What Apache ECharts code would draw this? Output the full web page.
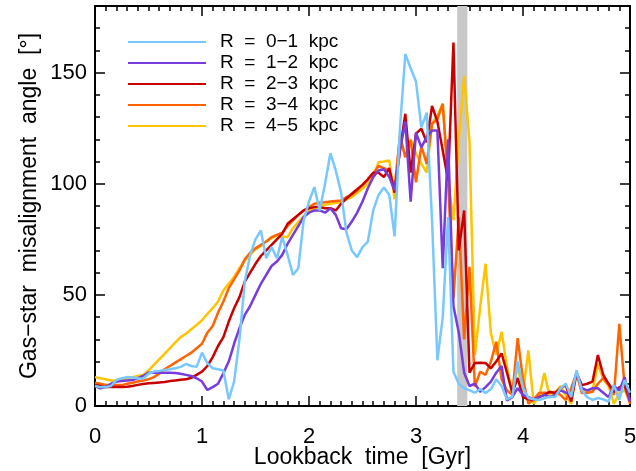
<!DOCTYPE html>
<html>
<head>
<meta charset="utf-8">
<script src="https://cdn.jsdelivr.net/npm/echarts@6.0.0/dist/echarts.min.js"></script>
<style>
  html, body { margin: 0; background: #fff; }
  #chart { width: 636px; height: 471px; }
</style>
</head>
<body>
<div id="chart"></div>
<script>
// lookback time [Gyr]
const times = [
  0, 0.05, 0.1, 0.15, 0.2, 0.25, 0.3, 0.35, 0.4, 0.45,
  0.5, 0.55, 0.6, 0.65, 0.7, 0.75, 0.8, 0.85, 0.9, 0.95,
  1, 1.05, 1.1, 1.15, 1.2, 1.25, 1.3, 1.35, 1.4, 1.45,
  1.5, 1.55, 1.6, 1.65, 1.7, 1.75, 1.8, 1.85, 1.9, 1.95,
  2, 2.05, 2.1, 2.15, 2.2, 2.25, 2.3, 2.35, 2.4, 2.45,
  2.5, 2.55, 2.6, 2.65, 2.7, 2.75, 2.8, 2.85, 2.9, 2.95,
  3, 3.05, 3.1, 3.15, 3.2, 3.25, 3.3, 3.35, 3.4, 3.45,
  3.5, 3.55, 3.6, 3.65, 3.7, 3.75, 3.8, 3.85, 3.9, 3.95,
  4, 4.05, 4.1, 4.15, 4.2, 4.25, 4.3, 4.35, 4.4, 4.45,
  4.5, 4.55, 4.6, 4.65, 4.7, 4.75, 4.8, 4.85, 4.9, 4.95,
  5
];

// misalignment angle [deg] per radial bin
const r01 = [
  9, 8.5, 8.5, 9, 11.7, 12.5, 13, 12.8, 12.5, 12.4,
  14.5, 15.5, 15.8, 16.2, 16.5, 17, 17.6, 18.9, 18, 17.6,
  24, 19.3, 17, 16.5, 16, 3, 11, 30, 56, 68,
  75, 79, 66.5, 71.5, 66.5, 76, 68, 59, 62, 83.5,
  92, 98.5, 88, 100, 113.7, 106, 96, 78, 70, 67,
  71.5, 74, 88, 95, 98.3, 95, 76.3, 125, 158.4, 152,
  146, 125.4, 132, 83.5, 20.6, 40, 85, 15.4, 10, 8,
  7, 6, 7.6, 5.8, 7.6, 12, 9, 3, 4.2, 20,
  8, 3.6, 3, 2.7, 3.5, 4.2, 4, 8, 10, 4,
  16, 7, 4, 2.7, 3.6, 3, 2, 9.4, 2.7, 11.7,
  6
];
const r12 = [
  9, 8, 8.5, 10, 11, 11.3, 11.5, 11.7, 12.5, 13.5,
  15, 15, 15, 15, 15, 14.8, 14.5, 14, 13.5, 12.5,
  11, 7.2, 8.5, 10, 14.8, 20, 28, 35, 41, 45,
  50, 55, 59, 63, 65, 68, 73, 77, 81, 85,
  87, 88, 88, 87, 89, 86, 80, 79.5, 83, 87,
  92, 98, 103, 106, 106.5, 103, 97, 115, 128, 92,
  123, 116.4, 121, 124, 124, 62, 120, 45, 33, 15,
  9, 10, 6.4, 8.5, 11, 15, 18, 2.5, 4, 8,
  5, 4, 3, 4, 5, 4, 5, 7, 6, 5,
  15, 8, 7, 8, 8, 6, 4, 9, 7, 13,
  2
];
const r23 = [
  9.4, 9, 8.5, 8.5, 8.5, 8.5, 8.7, 9, 9.5, 9.9,
  10.2, 10.4, 10.6, 10.8, 11.2, 11.5, 11.8, 12, 12.7, 14,
  15.5, 18, 22, 27, 31, 38, 44, 49, 56, 60,
  64, 67.5, 70, 72.5, 75, 77.5, 82, 84, 86, 88,
  89, 89.5, 89.5, 89, 89, 88, 91, 93.4, 95.5, 97.5,
  99.5, 102, 105, 105, 103, 107, 96, 115, 131.5, 105,
  122.6, 124.8, 118.7, 135, 128, 115, 101.5, 163.6, 70, 88,
  15, 19.3, 19.5, 19.3, 17, 20, 23.7, 15, 6, 12.6,
  4, 3, 2.7, 4, 5, 6.4, 5.8, 8, 9.4, 2,
  14.8, 9.4, 10, 11, 22.9, 14, 10, 6.4, 8.4, 9.4,
  2.7
];
const r34 = [
  10.5, 10, 9.5, 9.5, 9.4, 9.4, 10, 10.5, 11, 11.5,
  12, 13, 14.5, 16.5, 18, 19.5, 21, 22.5, 24, 26,
  28, 33, 36, 42, 47, 53, 57, 61, 66, 69,
  71, 72.5, 74, 76, 77, 78, 81, 83.5, 86, 88,
  89.5, 91, 91.5, 91.7, 92, 92.3, 92.5, 94, 95, 97,
  99.5, 102, 104.6, 108, 107, 106, 98, 121.7, 112, 119.5,
  100.7, 117, 109, 127, 129, 136, 101.5, 48.5, 85, 30,
  62.6, 8.7, 15.4, 14, 20, 28.9, 12, 7, 5, 30.5,
  12, 1, 3, 5.8, 6, 5.8, 6.4, 5, 2.7, 8,
  14.8, 5.8, 6, 6.4, 10, 12.6, 9.4, 5, 37, 8.7,
  1
];
const r45 = [
  13, 12.5, 12, 11.5, 11.5, 12, 12.5, 13, 13.5, 14,
  16, 18.5, 21, 23.5, 26, 28.5, 31, 32.5, 34.5, 36.5,
  38.6, 41.5, 44, 47, 52, 55, 58, 62, 65.5, 68,
  70.5, 72, 74, 75.5, 76.8, 76, 76, 80, 82.8, 85.5,
  88, 89, 90, 90.5, 91, 91.5, 91.7, 93, 94, 96,
  97.8, 100, 103, 109.7, 110, 110.5, 93, 121.7, 112, 120,
  113.6, 109, 105, 127, 130.7, 136, 101.5, 83.5, 120, 148.6,
  118.7, 22.9, 44.6, 64, 32.7, 23, 33.4, 17.8, 5, 17.8,
  5.8, 25, 1, 4, 14.8, 4, 6, 9, 5, 1,
  14.8, 7, 7, 7, 19, 12, 9, 1, 5.8, 7,
  2.7
];

const names = ['R  =  0−1  kpc', 'R  =  1−2  kpc', 'R  =  2−3  kpc', 'R  =  3−4  kpc', 'R  =  4−5  kpc'];
const colors = ['#78c8ff', '#783cdc', '#c80000', '#ff6400', '#ffc400'];
const values = [r01, r12, r23, r34, r45];
const band = [3.385, 3.48];

const FONT = 'Liberation Sans';
const black = '#000';

const chart = echarts.init(document.getElementById('chart'));

const line = { show: true, onZero: false, lineStyle: { color: black, width: 2 } };
const tick = (len) => ({ show: true, inside: true, length: len, lineStyle: { color: black, width: 1.5 } });

function xAx(pos, labels) {
  return {
    type: 'value', position: pos, min: 0, max: 5, interval: 1,
    axisLine: line, axisTick: tick(10),
    minorTick: { show: true, splitNumber: 10, length: 5, lineStyle: { color: black, width: 1.5 } },
    splitLine: { show: false },
    axisLabel: { show: labels, color: black, fontSize: 22, fontFamily: FONT, margin: 20 },
    name: labels ? 'Lookback  time  [Gyr]' : '',
    nameLocation: 'middle', nameGap: 40, nameMoveOverlap: false,
    nameTextStyle: { color: black, fontSize: 23, fontFamily: FONT }
  };
}
function yAx(pos, step, len, labels) {
  return {
    type: 'value', position: pos, min: 0, max: 180, interval: step,
    axisLine: step === 50 ? line : { show: false, onZero: false },
    axisTick: tick(len),
    splitLine: { show: false },
    axisLabel: { show: labels, color: black, fontSize: 22, fontFamily: FONT, margin: 8, showMaxLabel: false },
    name: labels ? 'Gas−star  misalignment  angle  [°]' : '',
    nameLocation: 'middle', nameGap: 54, nameMoveOverlap: false,
    nameTextStyle: { color: black, fontSize: 23, fontFamily: FONT }
  };
}

const series = [{
  type: 'line', data: [], z: 1, silent: true,
  markArea: { silent: true, itemStyle: { color: '#c8c8c8' }, data: [[{ xAxis: band[0] }, { xAxis: band[1] }]] }
}];
values.forEach((vals, i) => {
  series.push({
    name: names[i], type: 'line', symbol: 'none', showSymbol: false,
    data: times.map((t, j) => [t, vals[j]]),
    lineStyle: { width: 2.5, color: colors[i] },
    itemStyle: { color: colors[i] },
    z: 10 - i
  });
});

chart.setOption({
  animation: false,
  backgroundColor: '#fff',
  grid: { left: 95, right: 6, top: 6, bottom: 65, outerBoundsMode: 'none' },
  xAxis: [xAx('bottom', true), xAx('top', false)],
  yAxis: [yAx('left', 50, 10, true), yAx('left', 10, 5, false), yAx('right', 50, 10, false), yAx('right', 10, 5, false)],
  legend: {
    data: names, orient: 'vertical', left: 128, top: 31.5, padding: 0, itemGap: 0,
    itemWidth: 78, itemHeight: 2, icon: 'rect',
    textStyle: { color: black, fontSize: 19, fontFamily: FONT, lineHeight: 21, padding: [0, 0, 0, 9] }
  },
  series: series
});
</script>
</body>
</html>
